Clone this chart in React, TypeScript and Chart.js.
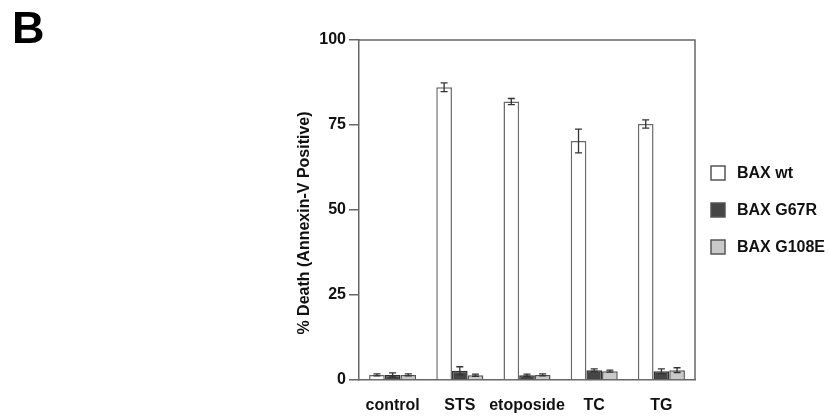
import React, { useEffect, useRef } from "react";
import { Chart, registerables } from "chart.js";

Chart.register(...registerables);

const categories = ["control", "STS", "etoposide", "TC", "TG"];
const seriesNames = ["BAX wt", "BAX G67R", "BAX G108E"];
const wtValues = [1.5, 86.1, 81.9, 70.3, 75.3];
const wtErrors = [0.3, 1.3, 0.9, 3.5, 1.2];
const g67rValues = [1.5, 2.7, 1.4, 2.9, 2.6];
const g67rErrors = [0.6, 1.2, 0.3, 0.4, 0.7];
const g108eValues = [1.5, 1.4, 1.5, 2.6, 2.9];
const g108eErrors = [0.3, 0.3, 0.3, 0.3, 0.7];
const yTicks = [0, 25, 50, 75, 100];
const yTitle = "% Death (Annexin-V Positive)";
const panelLabel = "B";

const FONT = "Arial, 'Liberation Sans', sans-serif";
const fills = ["#ffffff", "#454545", "#c9c9c9"];
const borders = ["#6a6a6a", "#333333", "#555555"];
const errorSets = [wtErrors, g67rErrors, g108eErrors];

const extrasPlugin = {
  id: "extras",
  afterDatasetsDraw(chart: any) {
    const ctx = chart.ctx;
    const area = chart.chartArea;
    const yScale = chart.scales.y;
    ctx.save();
    ctx.strokeStyle = "#666";
    ctx.lineWidth = 1.5;
    ctx.beginPath();
    ctx.moveTo(area.left, area.top);
    ctx.lineTo(area.right, area.top);
    ctx.lineTo(area.right, area.bottom);
    ctx.stroke();
    ctx.strokeStyle = "#333";
    ctx.lineWidth = 1.3;
    chart.data.datasets.forEach((ds: any, di: number) => {
      const meta = chart.getDatasetMeta(di);
      meta.data.forEach((bar: any, i: number) => {
        const v = ds.data[i];
        const e = errorSets[di][i];
        const x = bar.x;
        const yTop = yScale.getPixelForValue(v + e);
        const yBot = yScale.getPixelForValue(v - e);
        const cap = 3.5;
        ctx.beginPath();
        ctx.moveTo(x, yTop);
        ctx.lineTo(x, yBot);
        ctx.moveTo(x - cap, yTop);
        ctx.lineTo(x + cap, yTop);
        ctx.moveTo(x - cap, yBot);
        ctx.lineTo(x + cap, yBot);
        ctx.stroke();
      });
    });
    ctx.font = `bold 16px ${FONT}`;
    ctx.textBaseline = "middle";
    ctx.textAlign = "left";
    seriesNames.forEach((name, i) => {
      const cy = 173 + i * 37;
      ctx.fillStyle = fills[i];
      ctx.fillRect(711, cy - 7, 14, 14);
      ctx.strokeStyle = "#555";
      ctx.lineWidth = 1.5;
      ctx.strokeRect(711, cy - 7, 14, 14);
      ctx.fillStyle = "#111";
      ctx.fillText(name, 737, cy + 1);
    });
    ctx.save();
    ctx.translate(305, 223);
    ctx.rotate(-Math.PI / 2);
    ctx.textAlign = "center";
    ctx.textBaseline = "middle";
    ctx.font = `bold 16px ${FONT}`;
    ctx.fillStyle = "#111";
    ctx.fillText(yTitle, 0, 0);
    ctx.restore();
    ctx.font = `bold 45px ${FONT}`;
    ctx.textAlign = "left";
    ctx.textBaseline = "alphabetic";
    ctx.fillStyle = "#000";
    ctx.fillText(panelLabel, 12, 43);
    ctx.restore();
  },
};

export default function App() {
  const ref = useRef<HTMLCanvasElement>(null);
  useEffect(() => {
    if (!ref.current) return;
    const values = [wtValues, g67rValues, g108eValues];
    const chart = new Chart(ref.current, {
      type: "bar",
      data: {
        labels: categories,
        datasets: seriesNames.map((name, i) => ({
          label: name,
          data: values[i],
          backgroundColor: fills[i],
          borderColor: borders[i],
          borderWidth: 1.5,
          categoryPercentage: 0.7,
          barPercentage: 1,
        })),
      },
      options: {
        responsive: false,
        animation: false,
        layout: { padding: { left: 0, right: 134, top: 40, bottom: 0 } },
        plugins: { legend: { display: false }, tooltip: { enabled: false } },
        scales: {
          x: {
            grid: { display: false, drawTicks: false },
            border: { display: true, color: "#666", width: 1.5 },
            ticks: {
              font: { family: FONT, size: 16, weight: "bold" },
              color: "#111",
              padding: 16,
              maxRotation: 0,
              minRotation: 0,
              autoSkip: false,
            },
            afterFit: (s: any) => { s.height = 37; },
          },
          y: {
            min: 0,
            max: 100,
            afterBuildTicks: (s: any) => { s.ticks = yTicks.map((v) => ({ value: v })); },
            grid: { display: true, drawOnChartArea: false, drawTicks: true, tickLength: 10, color: "#666", lineWidth: 1.5 },
            border: { display: true, color: "#666", width: 1.5 },
            ticks: { font: { family: FONT, size: 16, weight: "bold" }, color: "#111", padding: 3 },
            afterFit: (s: any) => { s.width = 359; },
          },
        },
      },
      plugins: [extrasPlugin],
    });
    return () => chart.destroy();
  }, []);
  return (
    <div style={{ position: "fixed", left: 0, top: 0, width: 829, height: 417, background: "#fff" }}>
      <canvas ref={ref} width={829} height={417} />
    </div>
  );
}
